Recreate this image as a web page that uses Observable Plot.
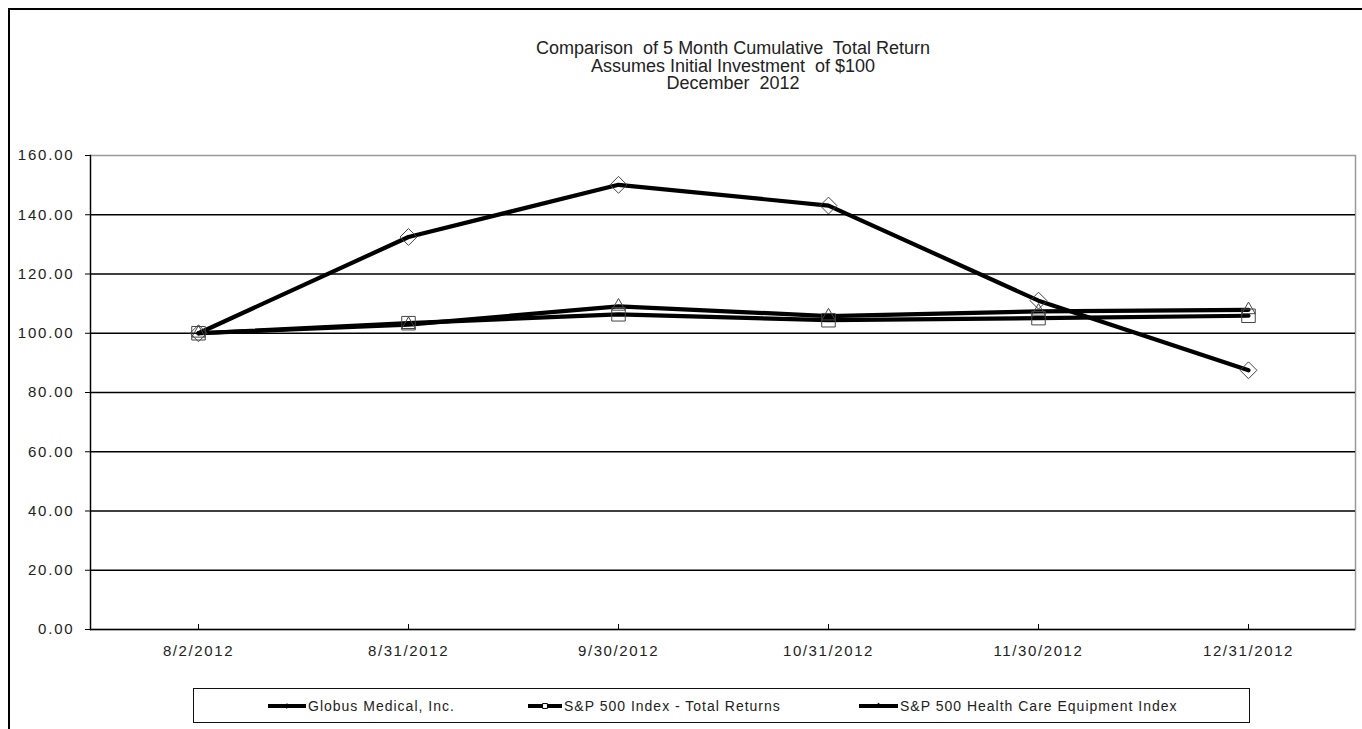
<!DOCTYPE html>
<html>
<head>
<meta charset="utf-8">
<script src="https://cdn.jsdelivr.net/npm/d3@7"></script>
<script src="https://cdn.jsdelivr.net/npm/@observablehq/plot@0.6"></script>
<style>
  html, body { margin: 0; padding: 0; background: #fff; }
  #wrap { position: relative; width: 1362px; height: 729px; overflow: hidden; font-family: "Liberation Sans", Arial, sans-serif; color: #222; }
  #outer { position: absolute; left: 8px; top: 8px; width: 1400px; height: 800px; border-left: 2px solid #000; border-top: 2px solid #000; box-sizing: border-box; pointer-events: none; }
  #title { position: absolute; left: 483px; width: 500px; top: 40px; text-align: center; font-size: 18px; line-height: 17.5px; color: #222; white-space: pre; }
  #chart { position: absolute; left: 0; top: 0; }
  #legend { position: absolute; left: 193px; top: 688px; width: 1057px; height: 35px; border: 1px solid #111; box-sizing: border-box; }
  .item { position: absolute; top: 0; height: 33px; display: flex; align-items: center; font-size: 14px; letter-spacing: 1px; white-space: nowrap; }
  .item svg { margin-right: 2px; }
  g[aria-label="y-axis tick label"] text { letter-spacing: 1.8px; }
  g[aria-label="x-axis tick label"] text { letter-spacing: 1.6px; }
</style>
</head>
<body>
<div id="wrap">
  <div id="chart"></div>
  <div id="outer"></div>
  <div id="title"></div>
  <div id="legend"></div>
</div>
<script>
const titleLines = ["Comparison  of 5 Month Cumulative  Total Return", "Assumes Initial Investment  of $100", "December  2012"];
const dates = ["8/2/2012", "8/31/2012", "9/30/2012", "10/31/2012", "11/30/2012", "12/31/2012"];
const seriesNames = ["Globus Medical, Inc.", "S&P 500 Index - Total Returns", "S&P 500 Health Care Equipment Index"];
const globus = [100, 132.5, 150.1, 143.1, 111.0, 87.5];
const sp500 = [100, 103.4, 106.4, 104.4, 105.1, 105.9];
const hce = [100, 102.9, 109.1, 105.8, 107.4, 107.9];
const yTicks = [0, 20, 40, 60, 80, 100, 120, 140, 160];
const gridTicks = [0, 20, 40, 60, 80, 100, 120, 140];

const symbols = ["diamond2", "square2", "triangle2"];
const radii = [7.6, 8.6, 6.4];
const allSeries = [globus, sp500, hce];
const rows = [];
allSeries.forEach((vals, si) => vals.forEach((v, i) => rows.push({series: seriesNames[si], si, date: dates[i], value: v})));

document.getElementById("title").textContent = titleLines.join("\n");

const marks = [
  Plot.frame({stroke: "#999", strokeWidth: 1.5}),
  Plot.frame({anchor: "left", stroke: "#000", strokeWidth: 1.3}),
  Plot.ruleY(gridTicks, {stroke: "#000", strokeWidth: 1.3}),
  Plot.axisY({ticks: yTicks, tickSize: 5, tickPadding: 11, tickFormat: d3.format(".2f"), label: null, stroke: "#000", fill: "#222"}),
  Plot.axisX({tickSize: 5, dy: -5, fill: "none", stroke: "#000", label: null}),
  Plot.axisX({tickSize: 0, tickPadding: 16, fill: "#222", label: null}),
];
allSeries.forEach((vals, si) => {
  const data = rows.filter(r => r.si === si);
  marks.push(Plot.line(data, {x: "date", y: "value", stroke: "#000", strokeWidth: 4.2, strokeLinejoin: "round"}));
});
allSeries.forEach((vals, si) => {
  const data = rows.filter(r => r.si === si);
  marks.push(Plot.dot(data, {x: "date", y: "value", symbol: symbols[si], r: radii[si], stroke: "#444", strokeWidth: 1, fill: "none"}));
});

const chart = Plot.plot({
  width: 1362,
  height: 729,
  marginLeft: 90,
  marginRight: 7,
  marginTop: 155,
  marginBottom: 100,
  style: {fontFamily: "'Liberation Sans', Arial, sans-serif", fontSize: "15px", background: "transparent", color: "#000"},
  x: {type: "point", domain: dates, padding: 0.5, label: null},
  y: {domain: [0, 160], label: null},
  marks
});
document.getElementById("chart").appendChild(chart);

// Legend
const legendPos = [{sample: 267, text: 307}, {sample: 527, text: 563}, {sample: 858, text: 899}];
const legend = document.getElementById("legend");
seriesNames.forEach((name, si) => {
  const item = document.createElement("div");
  item.className = "item";
  item.style.left = (legendPos[si].sample - 193) + "px";
  const ns = "http://www.w3.org/2000/svg";
  const svg = document.createElementNS(ns, "svg");
  const w = legendPos[si].text - legendPos[si].sample - 2;
  svg.setAttribute("width", w);
  svg.setAttribute("height", 12);
  const line = document.createElementNS(ns, "line");
  line.setAttribute("x1", 0); line.setAttribute("x2", w);
  line.setAttribute("y1", 6); line.setAttribute("y2", 6);
  line.setAttribute("stroke", "#000"); line.setAttribute("stroke-width", 4);
  svg.appendChild(line);
  const sym = d3.symbol().type([d3.symbolDiamond2, d3.symbolSquare2, d3.symbolTriangle2][si]).size([14, 30, 20][si]);
  const p = document.createElementNS(ns, "path");
  p.setAttribute("d", sym());
  p.setAttribute("transform", `translate(${w / 2},6)`);
  p.setAttribute("fill", si === 1 ? "#fff" : "#000");
  p.setAttribute("stroke", "#000");
  p.setAttribute("stroke-width", 1);
  svg.appendChild(p);
  item.appendChild(svg);
  const span = document.createElement("span");
  span.textContent = name;
  item.appendChild(span);
  legend.appendChild(item);
});
</script>
</body>
</html>
